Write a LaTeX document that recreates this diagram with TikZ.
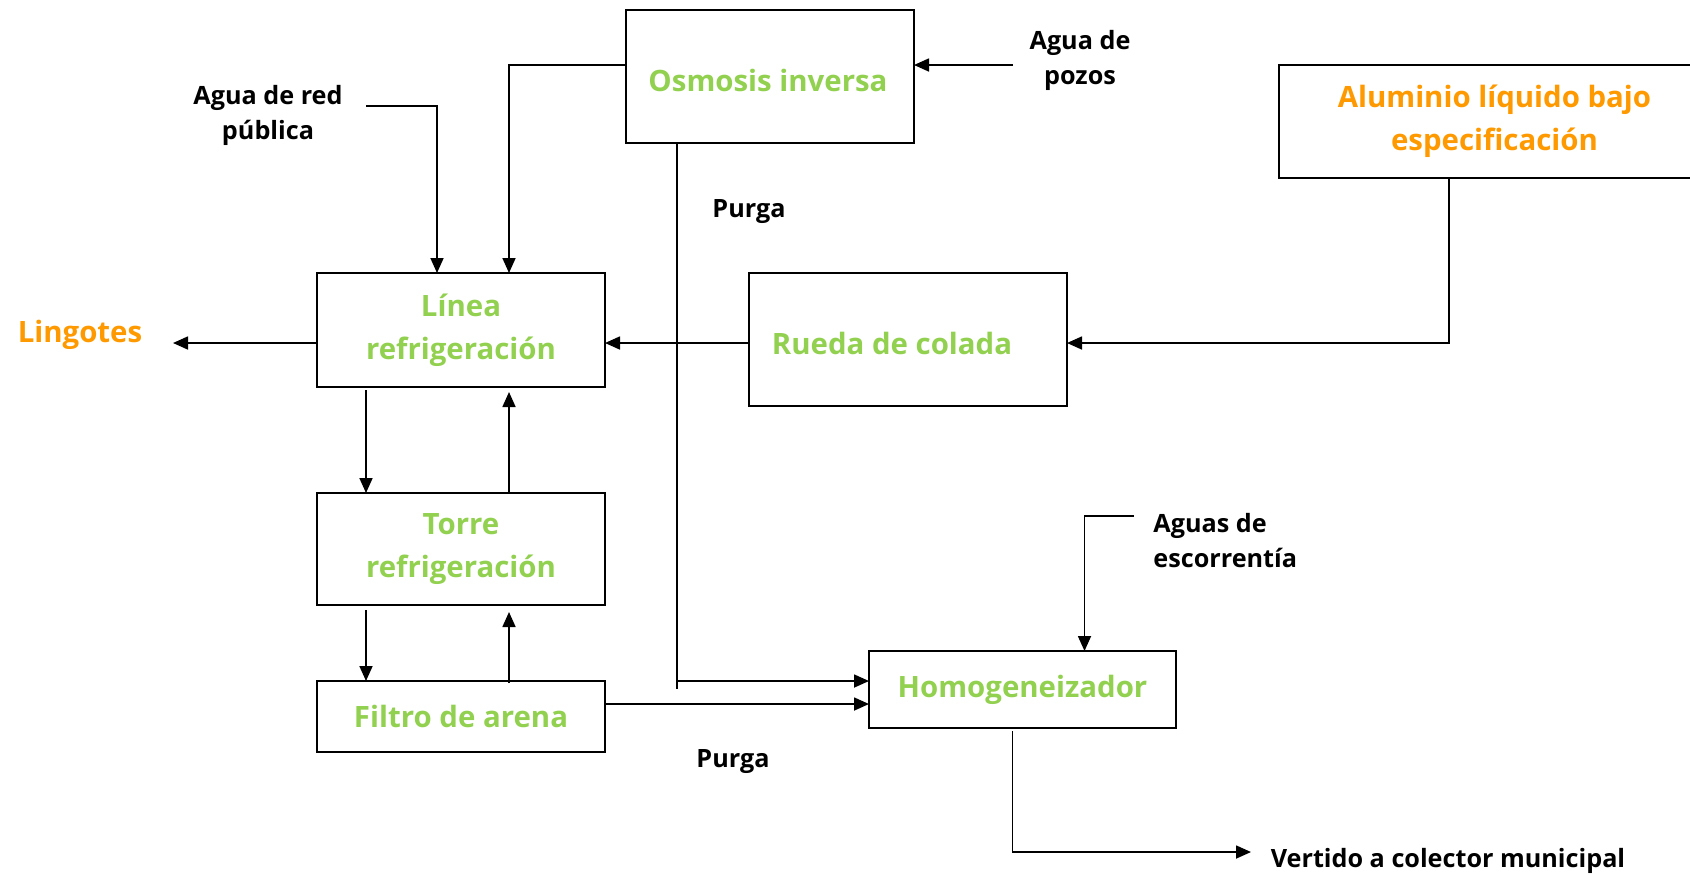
\documentclass[tikz,border=0pt]{standalone}
\usepackage{fontspec}
\setmainfont{Open Sans}
\usetikzlibrary{arrows.meta,calc}
\definecolor{lgreen}{HTML}{92D050}
\definecolor{orng}{HTML}{FF9900}
\newcommand\gfont{\fontsize{14.7}{21.5}\selectfont\bfseries}
\newcommand\kfont{\fontsize{12.6}{17.5}\selectfont\bfseries}
\begin{document}
\begin{tikzpicture}[x=0.5pt,y=-0.5pt,
  box/.style={draw,line width=1pt,inner sep=0pt,outer sep=0pt,align=center,text=lgreen,font=\gfont},
  gtxt/.style={inner sep=0pt,align=center,text=lgreen,font=\gfont},
  otxt/.style={inner sep=0pt,align=center,text=orng,font=\gfont},
  ktxt/.style={inner sep=0pt,align=center,text=black,font=\kfont},
  conn/.style={line width=0.85pt},
  arr/.style={line width=0.85pt,-{Triangle[length=7.5pt,width=6.5pt]}}]
\useasboundingbox (0,0) rectangle (1690,874);

% boxes
\node[box,minimum width=144pt,minimum height=66.5pt] (osm) at (770,76.5) {};
\node[gtxt] (osmt) at (768,80) {Osmosis inversa};
\node[box,minimum width=215.5pt,minimum height=56.5pt,text=orng] (alu) at (1494.5,121.5) {Aluminio líquido bajo\\especificación};
\node[box,minimum width=144pt,minimum height=57pt] (lin) at (461,330) {Línea\\refrigeración};
\node[box,minimum width=159pt,minimum height=66.5pt] (rue) at (908,339.5) {};
\node[gtxt] (ruet) at (892,343) {Rueda de colada};
\node[box,minimum width=144pt,minimum height=56pt] (tor) at (461,549) {Torre\\refrigeración};
\node[box,minimum width=144pt,minimum height=35.5pt] (fil) at (461,716.5) {Filtro de arena};
\node[box,minimum width=153.5pt,minimum height=38.5pt] (hom) at (1022.5,689.5) {Homogeneizador};

% labels
\node[otxt] (lingotes) at (80,335) {Lingotes};
\node[ktxt] (redl) at (268,115) {Agua de red\\pública};
\node[ktxt] (pozl) at (1080,60.5) {Agua de\\pozos};
\node[ktxt] (purga1) at (749,211.5) {Purga};
\node[ktxt] (purga2) at (733,762) {Purga};
\node[ktxt,align=left,anchor=west] (escl) at (1153,541) {Aguas de\\escorrentía};
\node[ktxt] (vertl) at (1448,861) {Vertido a colector municipal};

% free ends
\coordinate (pz) at (1013,65);
\coordinate (ar) at (366,106);
\coordinate (lg) at (173,343);
\coordinate (pb) at (677,689);
\coordinate (esc) at (1134,516);
\coordinate (vt) at (1251,852);

% connectors
\draw[arr] (pz) -- (osm.east |- pz);
\draw[arr] (osm.west |- pz) -| ($(lin.north)+(48,0)$);
\draw[arr] (ar) -| ($(lin.north)+(-24,0)$);
\draw[arr] ($(lin.west)+(0,13)$) -- (lg);
\draw[arr] ($(rue.west)+(0,3.5)$) coordinate (r1) -- (lin.east |- r1);
\draw[arr] ($(alu.south)+(-45.5,0)$) |- (rue.east |- r1);
\draw[arr] ($(lin.south)+(-95,3)$) -- ($(tor.north)+(-95,0)$);
\draw[arr] ($(tor.north)+(48,0)$) -- ($(lin.south)+(48,5)$);
\draw[arr] ($(tor.south)+(-95,5)$) -- ($(fil.north)+(-95,0)$);
\draw[arr] ($(fil.north)+(48,2)$) -- ($(tor.south)+(48,7)$);
\draw[conn] ($(osm.south)+(-93,0)$) -- (pb);
\draw[arr] (pb |- fil.north) -- (hom.west |- fil.north);
\draw[arr] ($(fil.east)+(0,-12.5)$) coordinate (f1) -- (hom.west |- f1);
\draw[arr] (esc) -| ($(hom.north)+(62,0)$);
\draw[arr] ($(hom.south)+(-10,3)$) |- (vt);
\end{tikzpicture}
\end{document}
